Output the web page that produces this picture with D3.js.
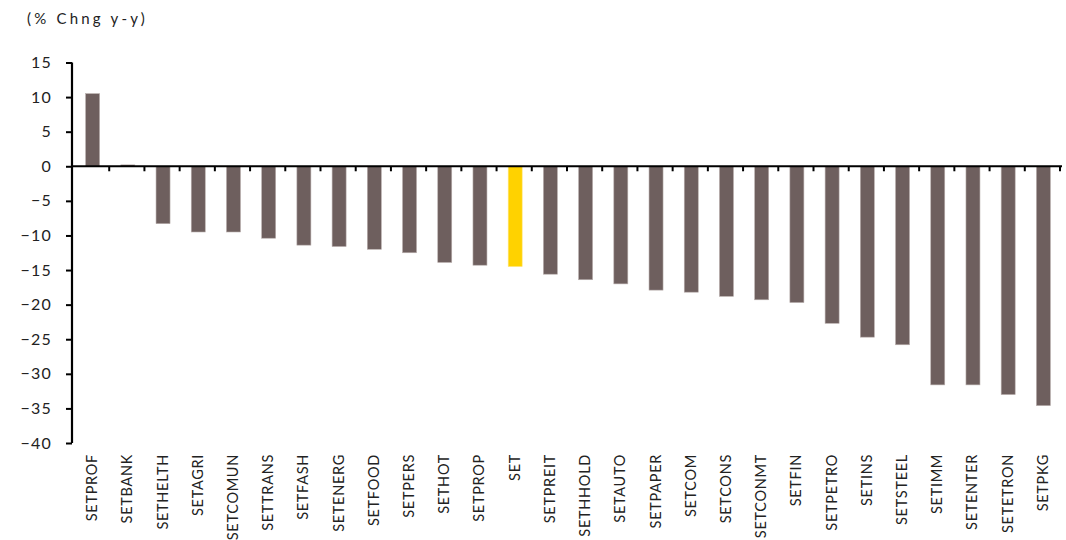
<!DOCTYPE html>
<html>
<head>
<meta charset="utf-8">
<script src="https://cdn.jsdelivr.net/npm/d3@7"></script>
<style>
    body { margin: 0; background: #fff; }
    svg text { font-family: Lato, "Noto Sans", sans-serif; fill: #222; }
</style>
</head>
<body>
<div id="chart"></div>
<script>
const sectors = ["SETPROF", "SETBANK", "SETHELTH", "SETAGRI", "SETCOMUN", "SETTRANS", "SETFASH",
    "SETENERG", "SETFOOD", "SETPERS", "SETHOT", "SETPROP", "SET", "SETPREIT", "SETHHOLD",
    "SETAUTO", "SETPAPER", "SETCOM", "SETCONS", "SETCONMT", "SETFIN", "SETPETRO", "SETINS",
    "SETSTEEL", "SETIMM", "SETENTER", "SETETRON", "SETPKG"];
const changes = [10.5, 0.2, -8.3, -9.5, -9.5, -10.4, -11.4, -11.6, -12.0, -12.5, -13.9, -14.3, -14.5,
    -15.6, -16.4, -17.0, -17.9, -18.2, -18.8, -19.3, -19.7, -22.7, -24.7, -25.8, -31.6, -31.6, -33.0, -34.6];
const yTicks = [15, 10, 5, 0, -5, -10, -15, -20, -25, -30, -35, -40];
const highlight = "SET";

const data = sectors.map((name, i) => ({name: name, value: changes[i]}));

const width = 1066, height = 540;
const svg = d3.select("#chart").append("svg")
    .attr("width", width)
    .attr("height", height);

const y = d3.scaleLinear()
    .domain([-40, 15])
    .range([443, 62.5]);

const x = d3.scaleBand()
    .domain(sectors)
    .range([74, 1060]);

const barWidth = 14;

svg.append("text")
    .attr("x", 27)
    .attr("y", 24)
    .style("font-size", "15px")
    .style("letter-spacing", "3.2px")
    .text("(% Chng y-y)");

// bars
svg.selectAll(".bar")
    .data(data)
    .enter().append("rect")
    .attr("class", "bar")
    .attr("x", d => x(d.name) + (x.bandwidth() - barWidth) / 2 + 1)
    .attr("width", barWidth)
    .attr("y", d => y(Math.max(0, d.value)))
    .attr("height", d => Math.abs(y(d.value) - y(0)))
    .attr("fill", d => d.name === highlight ? "#ffd200" : "#6e5f5e")
    .attr("stroke", d => d.name === highlight ? "#ffe680" : "#b8aeac")
    .attr("stroke-width", 0.6);

// y axis
const yAxis = svg.append("g")
    .attr("transform", "translate(72,0)")
    .call(d3.axisLeft(y).tickValues(yTicks).tickSize(6).tickPadding(14).tickFormat(d3.format("d")));
yAxis.select(".domain").attr("stroke", "#000").attr("stroke-width", 2.2).attr("d", `M0,${y(15)}V${y(-40)}`);
yAxis.selectAll(".tick line").attr("stroke", "#000").attr("stroke-width", 2);
yAxis.selectAll(".tick text")
    .style("font-size", "16px")
    .style("letter-spacing", "1.2px")
    .style("font-family", "Lato, 'Noto Sans', sans-serif")
    .attr("fill", "#222");

// x axis along zero line, ticks between categories
const xAxis = svg.append("g").attr("transform", `translate(0,${y(0)})`);
xAxis.append("line")
    .attr("x1", 71).attr("x2", 1062)
    .attr("stroke", "#000").attr("stroke-width", 2.2);
xAxis.selectAll(".sep")
    .data(sectors)
    .enter().append("line")
    .attr("class", "sep")
    .attr("x1", d => x(d) + x.bandwidth())
    .attr("x2", d => x(d) + x.bandwidth())
    .attr("y1", 0).attr("y2", 5)
    .attr("stroke", "#000").attr("stroke-width", 2);

// category labels
svg.selectAll(".cat")
    .data(sectors)
    .enter().append("text")
    .attr("class", "cat")
    .attr("transform", d => `translate(${x(d) + x.bandwidth() / 2 + 5.5},454) rotate(-90)`)
    .attr("text-anchor", "end")
    .style("font-size", "14.5px")
    .style("letter-spacing", "0.7px")
    .text(d => d);
</script>
</body>
</html>
